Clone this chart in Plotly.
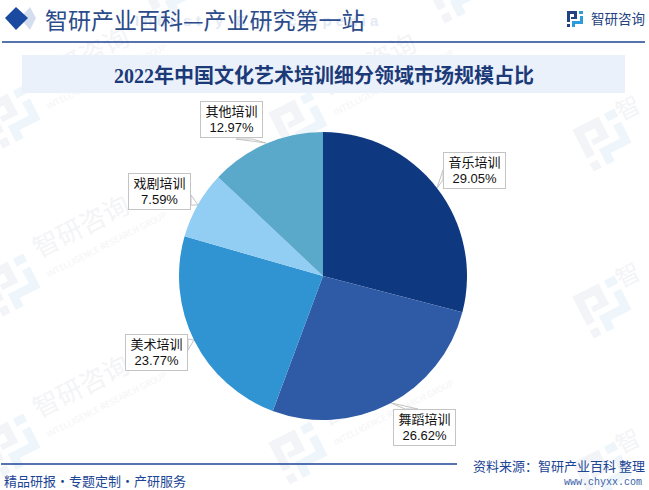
import math
import plotly.graph_objects as go

categories = ["音乐培训", "舞蹈培训", "美术培训", "戏剧培训", "其他培训"]
shares = [29.05, 26.62, 23.77, 7.59, 12.97]
slice_colors = ["#0e3880", "#2f5ba6", "#3194d2", "#92cdf3", "#5aa8ca"]
chart_title = "2022年中国文化艺术培训细分领域市场规模占比"
header_title = "智研产业百科—产业研究第一站"
brand = "智研咨询"
brand_en = "INTELLIGENCE RESEARCH GROUP"
source_text = "资料来源：智研产业百科 整理"
site_text = "www.chyxx.com"
footer_left = "精品研报·专题定制·产研服务"

W, H = 649, 490
CJK = "Noto Sans CJK SC"
NAVY = "#1c4595"
WM_TEXT = "#f3f4f6"


def px(x):
    return x / W


def py(y):
    return 1 - y / H


shapes = []
annotations = []


def poly(points, fill, line=None, layer="below"):
    path = "M" + " L".join(f"{px(a):.5f},{py(b):.5f}" for a, b in points) + " Z"
    shapes.append(dict(type="path", xref="paper", yref="paper", path=path, fillcolor=fill,
                       line=dict(color=line or fill, width=1 if line else 0), layer=layer))


LOGO_A = [(0, 0), (10, 0), (10, 8), (4, 8), (4, 6), (7, 6), (7, 3), (3, 3), (3, 11), (0, 11)]
LOGO_A2 = [(0, 13), (3, 13), (3, 16), (0, 16)]
LOGO_B = [(12, 0), (16, 0), (16, 3), (12, 3)]
LOGO_C = [(13, 5), (16, 5), (16, 13), (8, 13), (8, 16), (5, 16), (5, 10), (13, 10)]


def logo(cx, cy, size, angle, dark, light):
    s = size / 16
    a = math.radians(angle)

    def tr(pts):
        out = []
        for u, v in pts:
            du, dv = (u - 8) * s, (v - 8) * s
            out.append((cx + du * math.cos(a) - dv * math.sin(a),
                        cy + du * math.sin(a) + dv * math.cos(a)))
        return out

    poly(tr(LOGO_A), dark)
    poly(tr(LOGO_A2), dark)
    poly(tr(LOGO_B), light)
    poly(tr(LOGO_C), light)


def wm_label(cx, cy, text, size, color):
    shapes.append(dict(type="rect", xref="paper", yref="paper",
                       x0=px(cx - 2), x1=px(cx + 2), y0=py(cy + 2), y1=py(cy - 2),
                       line=dict(width=0), fillcolor="rgba(0,0,0,0)", layer="below",
                       label=dict(text=text, textangle=-27, textposition="middle center",
                                  font=dict(family=CJK, size=size, color=color))))


# tiled background watermark: logo, wordmark and English line
for lx, ly in [(13, 117), (13, 285), (13, 445), (300, 123), (300, 290), (300, 453)]:
    logo(lx, ly, 47, -27, "#f2f4f7", "#eef6fb")
    wm_label(lx + 69, ly - 57, brand, 26, WM_TEXT)
    wm_label(lx + 94, ly - 40, brand_en, 8.5, WM_TEXT)
for lx, ly in [(604, 140), (604, 307), (604, 473)]:
    logo(lx, ly, 47, -27, "#f2f4f7", "#eef6fb")
    wm_label(lx + 25, ly - 30, brand[0], 24, WM_TEXT)
for lx, ly in [(170, -8), (455, -8)]:
    logo(lx, ly, 47, -27, "#f2f4f7", "#eef6fb")

# header band
shapes.append(dict(type="rect", xref="paper", yref="paper", x0=px(22), x1=px(625), y0=py(93), y1=py(55),
                   fillcolor="#eaf1fb", line=dict(width=0), layer="below"))
poly([(30, 7), (36, 18), (30, 30), (20, 18)], "#d5deef")
poly([(16, 7), (28, 18), (16, 30), (5, 18)], "#1a4a9f")
shapes.append(dict(type="line", xref="paper", yref="paper", x0=px(2), x1=px(645), y0=py(42), y1=py(42),
                   line=dict(color=NAVY, width=1.5), layer="below"))
shapes.append(dict(type="line", xref="paper", yref="paper", x0=px(1), x1=px(457), y0=py(464), y1=py(464),
                   line=dict(color=NAVY, width=1.5), layer="below"))
logo(575, 19, 16, 0, "#24427f", "#2d9cdb")


def text(x, y, s, size, color, anchor="left", family=CJK, bold=False):
    annotations.append(dict(x=px(x), y=py(y), xref="paper", yref="paper", xanchor=anchor, yanchor="middle",
                            text=f"<b>{s}</b>" if bold else s, showarrow=False,
                            font=dict(family=family, size=size, color=color)))


text(381, 21, "I n d u s t r y   E n c y c l o p e d i a", 15, "#e4eaf4", "right", "Liberation Sans", True)
text(43, 19, header_title, 23, "#2b4b8a")
text(589, 18, brand, 13.5, "#24427f")
text(324, 75, chart_title, 20, "#1c3a78", "center", f"Liberation Serif, {CJK}", True)
text(471, 465, source_text, 13, NAVY)
text(644, 482, site_text, 10, "#3a5fa8", "right", "Liberation Mono")
text(2, 480, footer_left, 13, NAVY)

# callout boxes: (left, top) of the box, wedge base points and tip on the pie edge
boxes = {
    "音乐培训": ((443, 152), [(443, 170), (443, 180), (437, 188)]),
    "舞蹈培训": ((393, 409), [(405, 409), (418, 409), (391, 403)]),
    "美术培训": ((125, 334), [(188, 339), (188, 350), (194, 340)]),
    "戏剧培训": ((128, 173), [(191, 195), (191, 205), (198, 205)]),
    "其他培训": ((200, 101), [(236, 139), (252, 139), (266, 143)]),
}
for name, value in zip(categories, shares):
    (bx, by), wedge = boxes[name]
    poly(wedge, "#ffffff", "#c4c4c4", layer="below")
    annotations.append(dict(x=px(bx), y=py(by), xref="paper", yref="paper", xanchor="left", yanchor="top",
                            width=61, height=35, align="center", valign="middle", borderpad=0,
                            text=f"{name}<br><span style='font-family:Liberation Sans'>{value:.2f}%</span>",
                            showarrow=False, bgcolor="#ffffff", bordercolor="#c4c4c4", borderwidth=1,
                            font=dict(family=f"Liberation Sans, {CJK}", size=13, color="#111111")))

fig = go.Figure(go.Pie(
    labels=categories, values=shares, sort=False, direction="clockwise", rotation=0,
    marker=dict(colors=slice_colors, line=dict(width=0)),
    textinfo="none", hoverinfo="label+percent",
    domain=dict(x=[px(179), px(467)], y=[py(420), py(132)]),
))
fig.update_layout(width=W, height=H, margin=dict(l=0, r=0, t=0, b=0), autosize=False,
                  showlegend=False, paper_bgcolor="#ffffff", plot_bgcolor="#ffffff",
                  shapes=shapes, annotations=annotations)
fig.write_html("out.html", config=dict(displayModeBar=False),
               post_script="document.body.style.margin='0';")
